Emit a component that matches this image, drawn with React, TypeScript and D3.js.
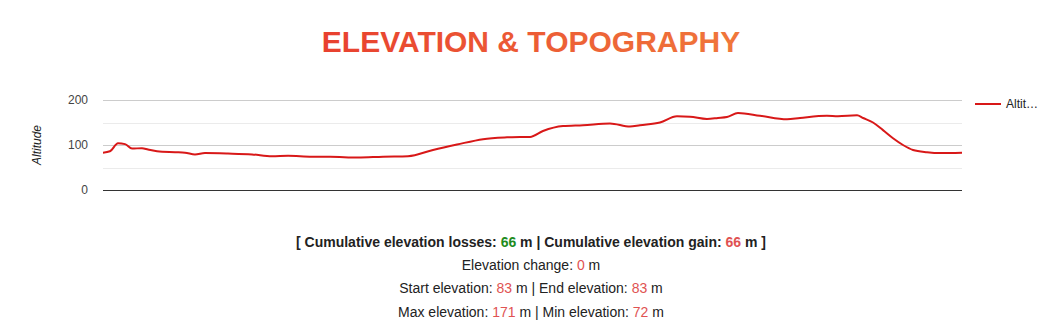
import React from "react";
import * as d3 from "d3";

// distance along the route (% of track) and altitude (m)
const distances = [0, 0.81, 1.75, 2.56, 3.38, 4.54, 5.24, 6.29, 8.38, 9.55, 10.71, 11.87, 14.55, 17.35, 19.67, 21.54, 24.33, 26.43, 29.69, 32.6, 35.51, 38.42, 41.21, 44.24, 47.03, 48.54, 49.71, 51.22, 53.55, 55.88, 59.02, 61.35, 62.51, 64.84, 66.82, 68.34, 70.31, 71.59, 72.64, 73.92, 76.48, 79.63, 81.14, 84.28, 85.56, 87.78, 88.48, 89.64, 90.8, 91.97, 93.13, 94.3, 95.93, 97.44, 100];
const altitudes = [83, 86, 104, 102, 92, 93, 90, 86, 84, 83, 79, 82, 81, 79, 75, 76, 74, 74, 72, 74, 75, 89, 101, 113, 117, 118, 118, 131, 142, 144, 148, 141, 144, 150, 164, 163, 158, 160, 162, 171, 165, 157, 160, 165, 164, 166, 160, 150, 133, 115, 100, 89, 84, 82, 83];

const yTicks = [0, 100, 200];
const yMinorTicks = [50, 150];
const titleText = "ELEVATION & TOPOGRAPHY";
const seriesName = "Altitude";
const legendLabel = "Altit…";
const lossValue = 66;
const gainValue = 66;
const changeValue = 0;
const startElev = 83;
const endElev = 83;
const maxElev = 171;
const minElev = 72;

export default function App() {
  const W = 1057;
  const H = 326;
  const left = 103;
  const right = 962;
  const top = 100;
  const bottom = 190;
  const n = Math.min(distances.length, altitudes.length);
  const pts = d3.range(n).map((i) => [distances[i], altitudes[i]] as [number, number]);
  const x = d3.scaleLinear().domain([0, 100]).range([left, right]);
  const y = d3.scaleLinear().domain([0, 200]).range([bottom, top]);
  const line = d3
    .line<[number, number]>()
    .x((d) => x(d[0]))
    .y((d) => y(d[1]))
    .curve(d3.curveMonotoneX);
  const font = "Arial, 'Liberation Sans', sans-serif";
  const red = "#e05252";
  const green = "#1e8c1e";
  const crisp = (v: number) => Math.round(v) + 0.5;
  return (
    <svg
      width={W}
      height={H}
      style={{ position: "absolute", left: 0, top: 0, display: "block", background: "#fff" }}
      fontFamily={font}
    >
      <defs>
        <linearGradient id="tg" x1="0" x2="1" y1="0" y2="0">
          <stop offset="0%" stopColor="#e8402f" />
          <stop offset="100%" stopColor="#f0773b" />
        </linearGradient>
      </defs>
      <text x={531} y={52} textAnchor="middle" fontSize={30} fontWeight="bold" fill="url(#tg)">
        {titleText}
      </text>
      {yMinorTicks.map((t) => (
        <line key={"m" + t} x1={left} x2={right} y1={crisp(y(t))} y2={crisp(y(t))} stroke="#ebebeb" strokeWidth={1} />
      ))}
      {yTicks.filter((t) => t !== 0).map((t) => (
        <line key={"g" + t} x1={left} x2={right} y1={crisp(y(t))} y2={crisp(y(t))} stroke="#cccccc" strokeWidth={1} />
      ))}
      <line x1={left} x2={right} y1={crisp(y(0))} y2={crisp(y(0))} stroke="#333" strokeWidth={1} />
      {yTicks.map((t) => (
        <text key={"t" + t} x={88} y={y(t) + 4} textAnchor="end" fontSize={12} fill="#444">
          {t}
        </text>
      ))}
      <text
        transform={`translate(41,${(top + bottom) / 2}) rotate(-90)`}
        textAnchor="middle"
        fontSize={12}
        fontStyle="italic"
        fill="#222"
      >
        {seriesName}
      </text>
      <path d={line(pts) || ""} fill="none" stroke="#d81818" strokeWidth={2} />
      <line x1={975} x2={1001} y1={104} y2={104} stroke="#d81818" strokeWidth={2} />
      <text x={1006} y={108} fontSize={12} fill="#222">
        {legendLabel}
      </text>
      <text x={531} y={247} textAnchor="middle" fontSize={14} fontWeight="bold" fill="#222">
        {"[ Cumulative elevation losses: "}
        <tspan fill={green}>{lossValue}</tspan>
        {" m | Cumulative elevation gain: "}
        <tspan fill={red}>{gainValue}</tspan>
        {" m ]"}
      </text>
      <text x={531} y={270} textAnchor="middle" fontSize={14} fill="#222">
        {"Elevation change: "}
        <tspan fill={red}>{changeValue}</tspan>
        {" m"}
      </text>
      <text x={531} y={293} textAnchor="middle" fontSize={14} fill="#222">
        {"Start elevation: "}
        <tspan fill={red}>{startElev}</tspan>
        {" m | End elevation: "}
        <tspan fill={red}>{endElev}</tspan>
        {" m"}
      </text>
      <text x={531} y={317} textAnchor="middle" fontSize={14} fill="#222">
        {"Max elevation: "}
        <tspan fill={red}>{maxElev}</tspan>
        {" m | Min elevation: "}
        <tspan fill={red}>{minElev}</tspan>
        {" m"}
      </text>
    </svg>
  );
}
